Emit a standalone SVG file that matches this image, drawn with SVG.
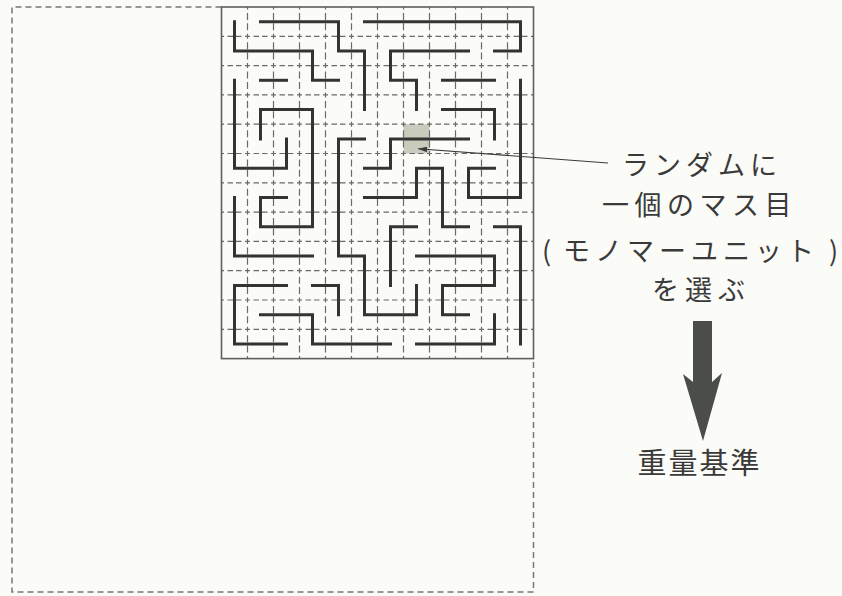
<svg xmlns="http://www.w3.org/2000/svg" width="842" height="596" viewBox="0 0 842 596">
<defs>
<style>
.bg{fill:#fbfbf7}
.frame{fill:none;stroke:#777;stroke-width:1.5;stroke-dasharray:6 4}
.border{fill:none;stroke:#5e5e5e;stroke-width:1.6}
.gh{fill:none;stroke:#6a6a6a;stroke-width:1.2;stroke-dasharray:5 3.5 5.5 3 5.5 3.5;stroke-dashoffset:2.5}
.gv{fill:none;stroke:#6a6a6a;stroke-width:1.2;stroke-dasharray:5 3.5 7 3.3 7 3.5;stroke-dashoffset:2.5}
.chain{fill:none;stroke:#333;stroke-width:3;stroke-linecap:square;stroke-linejoin:miter}
.cell{fill:#c9ccbc}
.lbl{font-family:"Noto Sans CJK JP","Noto Sans CJK SC",sans-serif;font-size:27px;fill:#3a3a3a}
.big{font-family:"Noto Sans CJK JP","Noto Sans CJK SC",sans-serif;font-size:29px;fill:#3a3a3a}
.lead{fill:none;stroke:#3a3a3a;stroke-width:1.1}
.bigarrow{fill:#4b4e48}
</style>
<marker id="ah" viewBox="0 0 10 6" refX="10" refY="3" markerWidth="9" markerHeight="5.5" markerUnits="userSpaceOnUse" orient="auto">
<path d="M0,0 L10,3 L0,6 z" fill="#3a3a3a"/>
</marker>
</defs>
<rect class="bg" x="0" y="0" width="842" height="596"/>
<g id="frame">
<path class="frame" d="M221.5,7 H12 V592 H533.5 V358.6"/>
</g>
<g id="lattice">
<rect class="cell" x="403.5" y="124.2" width="26" height="29.3"/>
<g id="grid-lines">
<path class="gv" d="M247.5,7 V358.6 M273.5,7 V358.6 M299.5,7 V358.6 M325.5,7 V358.6 M351.5,7 V358.6 M377.5,7 V358.6 M403.5,7 V358.6 M429.5,7 V358.6 M455.5,7 V358.6 M481.5,7 V358.6 M507.5,7 V358.6"/>
<path class="gh" d="M221.5,36.3 H533.5 M221.5,65.6 H533.5 M221.5,94.9 H533.5 M221.5,124.2 H533.5 M221.5,153.5 H533.5 M221.5,182.8 H533.5 M221.5,212.1 H533.5 M221.5,241.4 H533.5 M221.5,270.7 H533.5 M221.5,300 H533.5 M221.5,329.3 H533.5"/>
<rect class="border" x="221.5" y="7" width="312" height="351.6"/>
</g>
<g id="chains">
<path class="chain" d="M260.5,21.7 H338.5 V51 H364.5 V109.6"/>
<path class="chain" d="M234.5,21.7 V51 H312.5 V80.3 H338.5"/>
<path class="chain" d="M260.5,80.3 H286.5"/>
<path class="chain" d="M364.5,21.7 H520.5 V51 H494.5"/>
<path class="chain" d="M468.5,51 H390.5 V80.3 H416.5 V109.6"/>
<path class="chain" d="M442.5,80.3 H494.5"/>
<path class="chain" d="M442.5,109.6 H494.5 V138.9"/>
<path class="chain" d="M494.5,168.2 H468.5 V197.5 H520.5 V80.3"/>
<path class="chain" d="M234.5,80.3 V168.2 H286.5 V138.9"/>
<path class="chain" d="M260.5,138.9 V109.6 H312.5 V226.8 H260.5 V197.5 H286.5"/>
<path class="chain" d="M234.5,197.5 V256.1 H312.5"/>
<path class="chain" d="M364.5,138.9 H338.5 V256.1 H364.5 V314.7 H416.5 V285.4"/>
<path class="chain" d="M364.5,197.5 H416.5 V168.2 H442.5 V226.8 H468.5"/>
<path class="chain" d="M494.5,226.8 H520.5 V344"/>
<path class="chain" d="M416.5,226.8 H390.5 V285.4"/>
<path class="chain" d="M416.5,256.1 H494.5 V285.4 H442.5 V314.7 H468.5"/>
<path class="chain" d="M494.5,314.7 V344 H416.5"/>
<path class="chain" d="M286.5,285.4 H234.5 V344 H286.5"/>
<path class="chain" d="M312.5,285.4 H338.5 V314.7"/>
<path class="chain" d="M260.5,314.7 H312.5 V344 H390.5"/>
<path class="chain" d="M468.5,138.9 H390.5 V168.2 H364.5"/>
</g>
</g>
<g id="label-random">
<text class="lbl" x="622" y="174.5" letter-spacing="5">ランダムに</text>
<text class="lbl" x="602" y="214.5" letter-spacing="5.5">一個のマス目</text>
<text class="lbl" y="260.5"><tspan x="542">(</tspan><tspan x="563" letter-spacing="5">モノマーユニット</tspan><tspan x="829">)</tspan></text>
<text class="lbl" x="652" y="299.5" letter-spacing="6">を選ぶ</text>
</g>
<g id="weight-criterion">
<text class="big" x="637.5" y="473.5" letter-spacing="2">重量基準</text>
</g>
<g id="connectors">
<path class="lead" d="M608,163 L418,148.8" marker-end="url(#ah)"/>
<polygon class="bigarrow" points="693,321 712,321 712,382 722,373 703,441 683,374 693,382"/>
</g>
</svg>
